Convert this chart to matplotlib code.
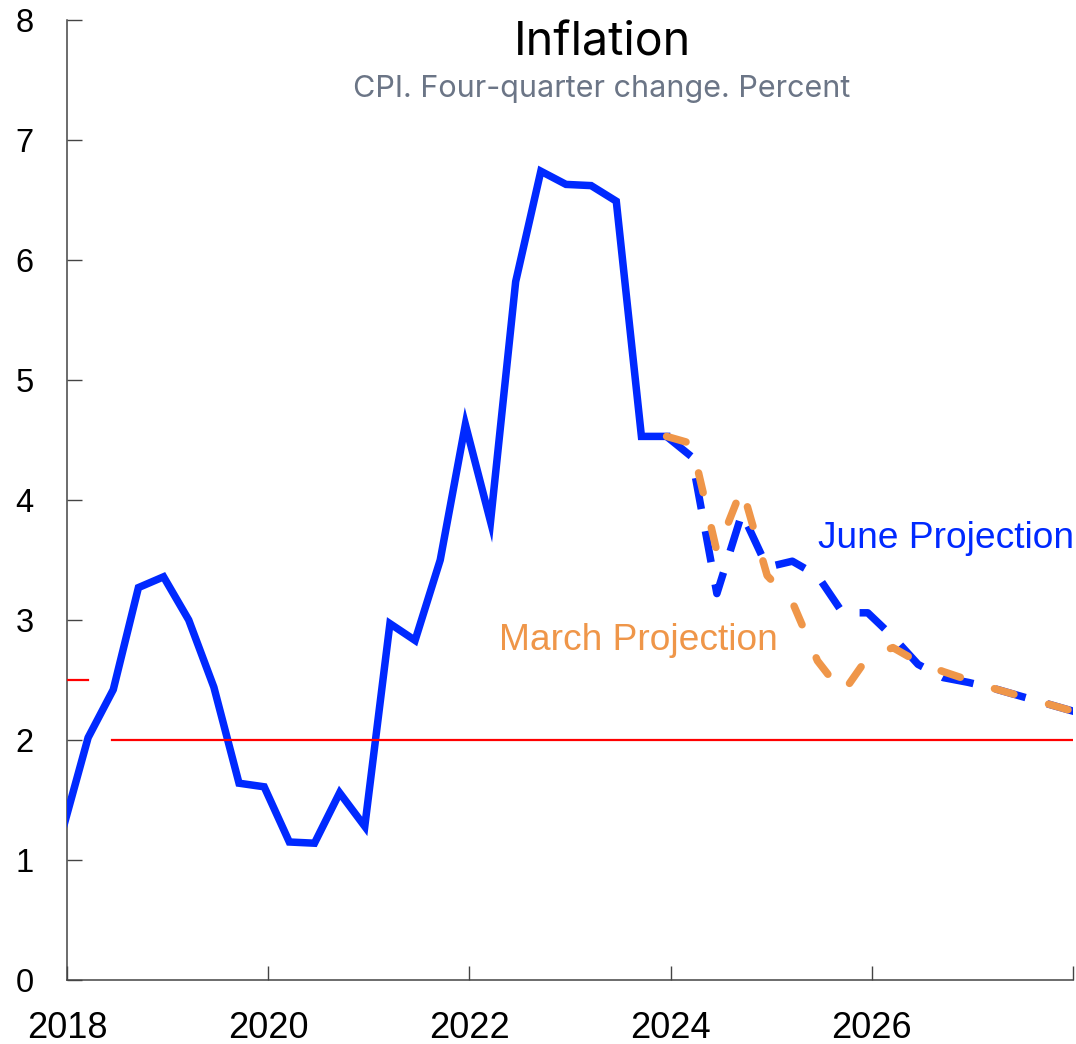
import numpy as np
import matplotlib
matplotlib.use("Agg")
import matplotlib.pyplot as plt

plt.rcParams['font.family'] = ['Liberation Sans', 'DejaVu Sans']

# data (quarterly, four-quarter change in CPI, percent)
hist_start = 2017.96
hist_vals = [1.26, 2.02, 2.42, 3.27, 3.36, 3.00, 2.44, 1.64, 1.61, 1.15,
             1.14, 1.56, 1.28, 2.97, 2.83, 3.50, 4.63, 3.82, 5.82, 6.74,
             6.63, 6.62, 6.49, 4.53, 4.53]

june_vals = [4.53, 4.36, 3.22, 3.89, 3.44, 3.49, 3.37, 3.06, 3.06, 2.86,
             2.63, 2.52, 2.48, 2.43, 2.37, 2.31, 2.25, 2.19]
march_vals = [4.53, 4.47, 3.57, 4.10, 3.37, 3.15, 2.66, 2.39, 2.69, 2.77,
              2.65, 2.57, 2.50, 2.43, 2.37, 2.31, 2.25, 2.19]

# inflation target
target_old = ([2018.0, 2018.21], [2.5, 2.5])
target_new = ([2018.45, 2028.0], [2.0, 2.0])

x_ticks = [2018, 2020, 2022, 2024, 2026, 2028]
x_labels = ['2018', '2020', '2022', '2024', '2026', '']
y_ticks = [0, 1, 2, 3, 4, 5, 6, 7, 8]

blue = '#0029ff'
orange = '#ef9649'
red = '#ff0000'

t_hist = hist_start + 0.25 * np.arange(len(hist_vals))
t_proj = t_hist[-1] + 0.25 * np.arange(len(june_vals))

fig = plt.figure(figsize=(10.76, 10.44), dpi=100)
ax = fig.add_axes([67 / 1076, 1 - 980 / 1044, (1073 - 67) / 1076, 960 / 1044])

lw = 5.4
ax.plot(t_hist, hist_vals, color=blue, lw=lw, solid_joinstyle='miter', zorder=3)
ax.plot(t_proj, june_vals, color=blue, lw=lw, dashes=(4.2, 3.0),
        dash_capstyle='butt', dash_joinstyle='round', zorder=3)
ax.plot(t_proj, march_vals, color=orange, lw=lw, dashes=(2.7, 4.8),
        dash_capstyle='round', dash_joinstyle='round', zorder=4)

ax.plot(*target_old, color=red, lw=1.6, zorder=5)
ax.plot(*target_new, color=red, lw=1.6, zorder=5)

ax.text(2025.47, 3.68, 'June Projection', color=blue, fontsize=26.7, va='center')
ax.text(2022.29, 2.83, 'March Projection', color=orange, fontsize=26.7, va='center')

ax.set_xlim(2018, 2028)
ax.set_ylim(0, 8)
ax.set_xticks(x_ticks)
ax.set_xticklabels(x_labels)
ax.set_yticks(y_ticks)

for s in ['top', 'right']:
    ax.spines[s].set_visible(False)
for s in ['left', 'bottom']:
    ax.spines[s].set_color('#444444')
    ax.spines[s].set_linewidth(1.1)

ax.tick_params(axis='x', direction='in', length=10, width=1, color='#444444',
               labelsize=26, pad=22)
ax.tick_params(axis='y', direction='in', length=11, width=1, color='#444444',
               labelsize=23.5, pad=24)

fig.text(602 / 1076, 1 - 43 / 1044, 'Inflation', ha='center', va='center',
         fontsize=33.5, family=['Inter', 'DejaVu Sans'], color='black')
fig.text(602 / 1076, 1 - 89 / 1044, 'CPI. Four-quarter change. Percent',
         ha='center', va='center', fontsize=22,
         family=['Inter', 'DejaVu Sans'], color='#6b7586')

fig.savefig('out.png', dpi=100)
